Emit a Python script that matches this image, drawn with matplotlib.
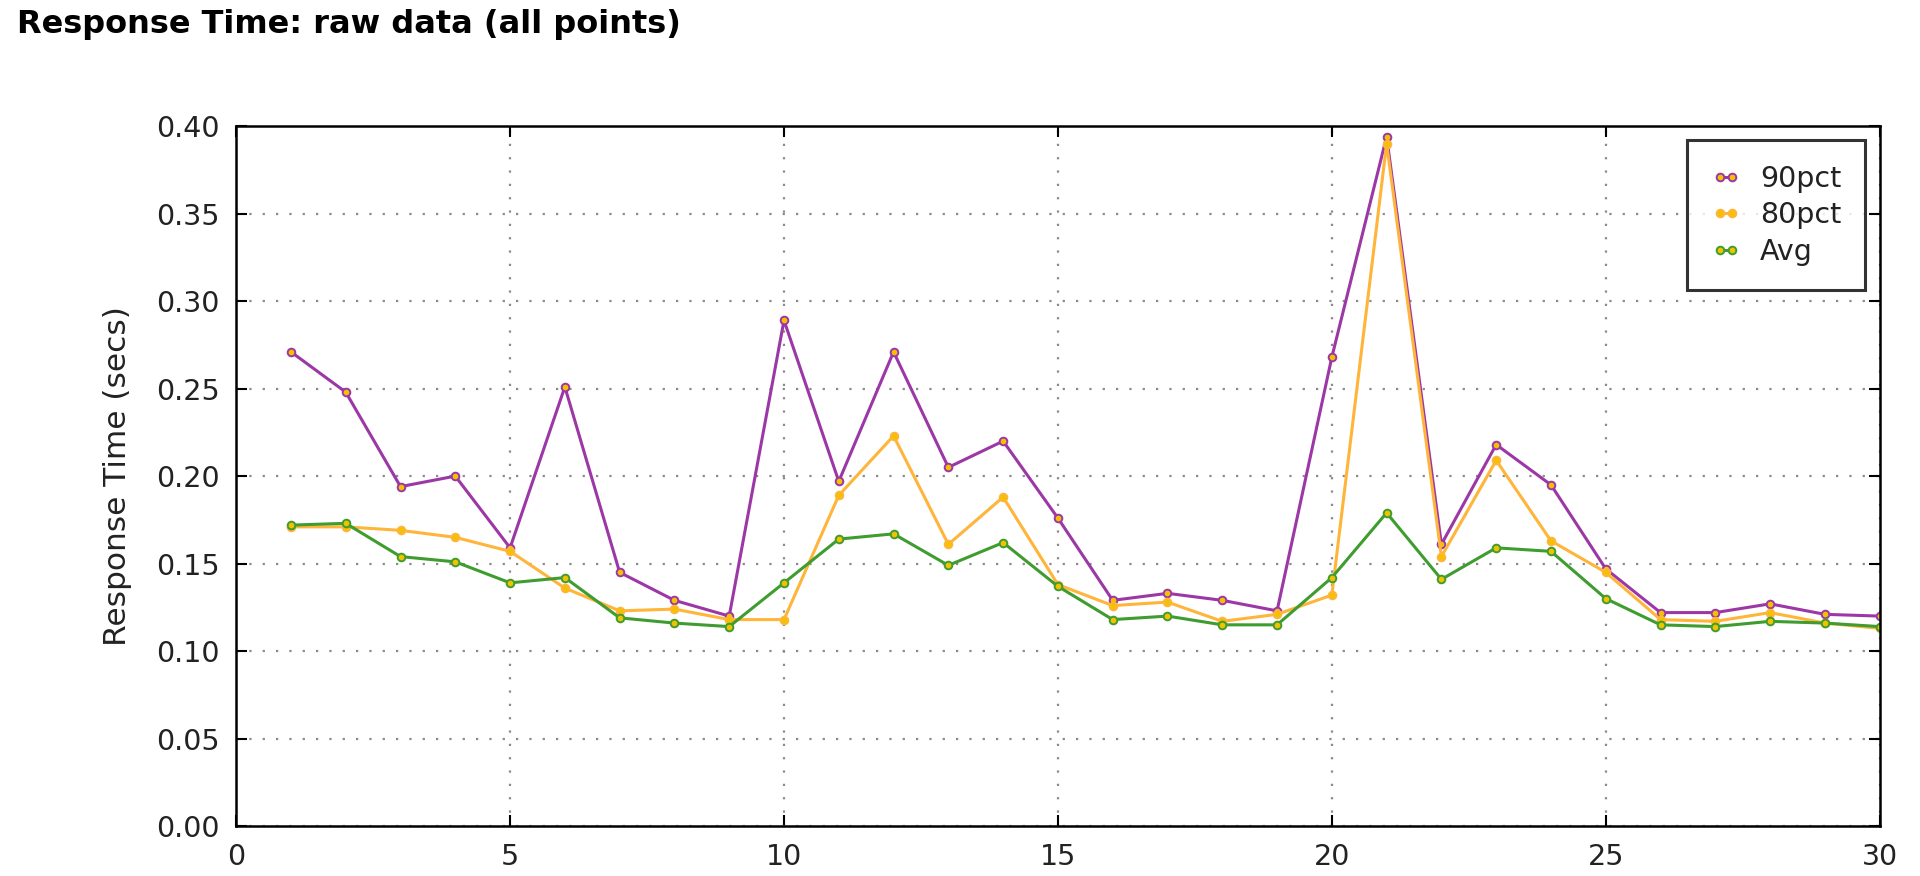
import numpy as np
import matplotlib
matplotlib.use('Agg')
import matplotlib.pyplot as plt

# response times (secs) per run
runs = list(range(1, 31))
p90 = [0.271, 0.248, 0.194, 0.200, 0.159, 0.251, 0.145, 0.129, 0.120, 0.289,
       0.197, 0.271, 0.205, 0.220, 0.176, 0.129, 0.133, 0.129, 0.123, 0.268,
       0.394, 0.161, 0.218, 0.195, 0.147, 0.122, 0.122, 0.127, 0.121, 0.120]
p80 = [0.171, 0.171, 0.169, 0.165, 0.157, 0.136, 0.123, 0.124, 0.118, 0.118,
       0.189, 0.223, 0.161, 0.188, 0.138, 0.126, 0.128, 0.117, 0.121, 0.132,
       0.390, 0.154, 0.209, 0.163, 0.145, 0.118, 0.117, 0.122, 0.116, 0.113]
avg = [0.172, 0.173, 0.154, 0.151, 0.139, 0.142, 0.119, 0.116, 0.114, 0.139,
       0.164, 0.167, 0.149, 0.162, 0.137, 0.118, 0.120, 0.115, 0.115, 0.142,
       0.179, 0.141, 0.159, 0.157, 0.130, 0.115, 0.114, 0.117, 0.116, 0.114]

series = [('90pct', p90, '#9c37a6'),
          ('80pct', p80, '#ffb43a'),
          ('Avg', avg, '#3f9c2f')]

fig = plt.figure(figsize=(19.2, 8.76), dpi=100)
ax = fig.add_axes([0.123, 0.057, 0.856, 0.799])

for name, vals, col in series:
    ax.plot(runs, vals, color=col, lw=2.2, marker='o', markersize=5.5,
            markerfacecolor='#f2c200', markeredgecolor=col, markeredgewidth=1.4,
            label=name)

ax.set_xlim(0, 30)
ax.set_ylim(0, 0.40)
ax.set_xticks(range(0, 31, 5))
ax.set_yticks(np.arange(0, 0.41, 0.05))
ax.yaxis.set_major_formatter(matplotlib.ticker.FormatStrFormatter('%.2f'))
ax.grid(True, linestyle=(0, (1, 5)), color='#8a8a8a', lw=1.6)
ax.tick_params(direction='in', length=8, width=1.5, labelsize=20.5,
               top=True, right=True, pad=12, colors='black',
               labelcolor='#222222')
for s in ax.spines.values():
    s.set_linewidth(1.8)
ax.set_ylabel('Response Time (secs)', fontsize=22.5, color='#222222', labelpad=17)

leg = ax.legend(loc='upper right', numpoints=2, fontsize=20.5, fancybox=False,
                frameon=True, borderpad=0.85, handlelength=1.0, labelspacing=0.3,
                borderaxespad=0.5, handletextpad=0.7)
leg.get_frame().set_edgecolor('black')
leg.get_frame().set_linewidth(2.2)
for t in leg.get_texts():
    t.set_color('#222222')

fig.text(0.009, 0.99, 'Response Time: raw data (all points)', fontsize=23,
         fontweight='bold', ha='left', va='top')

fig.savefig('out.png', dpi=100, facecolor='white')
